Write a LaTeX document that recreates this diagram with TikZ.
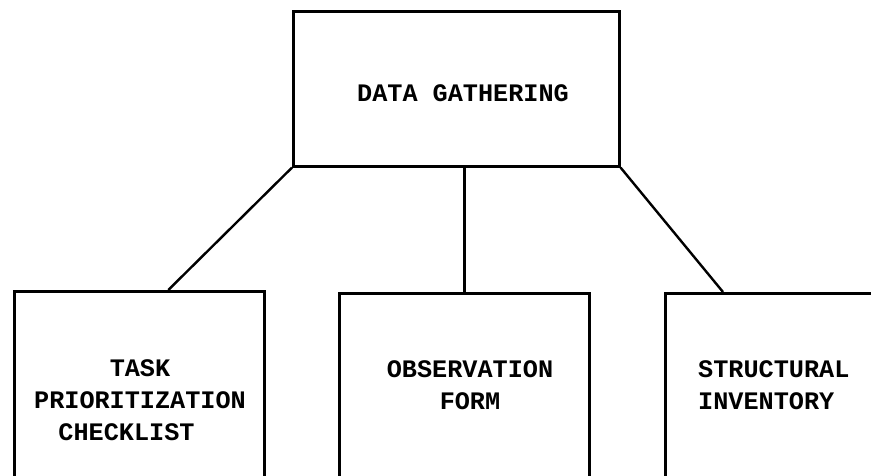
\documentclass[tikz,border=0pt]{standalone}
\usepackage{fontspec}
\setmonofont{Liberation Mono}
\begin{document}
\begin{tikzpicture}[x=1pt,y=-1pt,
  boxstyle/.style={draw=black, line width=2.6pt, rectangle, inner sep=0pt, anchor=north west},
  linkstyle/.style={draw=black, line width=2.4pt},
  labelstyle/.style={font=\ttfamily\bfseries\fontsize{25.2}{32}\selectfont, inner sep=0pt, text=black}
]
\useasboundingbox (0,0) rectangle (871,476);
\clip (0,0) rectangle (871,476);
\fill[white] (0,0) rectangle (871,476);
% boxes
\node[boxstyle, minimum width=326pt, minimum height=155pt] (top) at (292,10) {};
\node[boxstyle, minimum width=250pt, minimum height=220pt] (left) at (13,290) {};
\node[boxstyle, minimum width=250pt, minimum height=220pt] (mid) at (338,292) {};
\node[boxstyle, minimum width=250pt, minimum height=220pt] (right) at (664,292) {};
% labels
\node[labelstyle] (ttop) at (463,93) {DATA GATHERING};
\node[labelstyle, align=center] (tleft) at (140,400) {TASK\\PRIORITIZATION\\CHECKLIST\hspace*{27pt}};
\node[labelstyle, align=center] (tmid) at (470,385) {OBSERVATION\\FORM};
\node[labelstyle, align=left, anchor=west] (tright) at (698,385) {STRUCTURAL\\INVENTORY};
% connectors
\coordinate (lend) at ([xshift=29pt]left.north);
\coordinate (rend) at ([xshift=59pt]right.north west);
\draw[linkstyle] (top.south west) -- (lend);
\draw[linkstyle] (top.south -| mid.north) -- (mid.north);
\draw[linkstyle] (top.south east) -- (rend);
\end{tikzpicture}
\end{document}
